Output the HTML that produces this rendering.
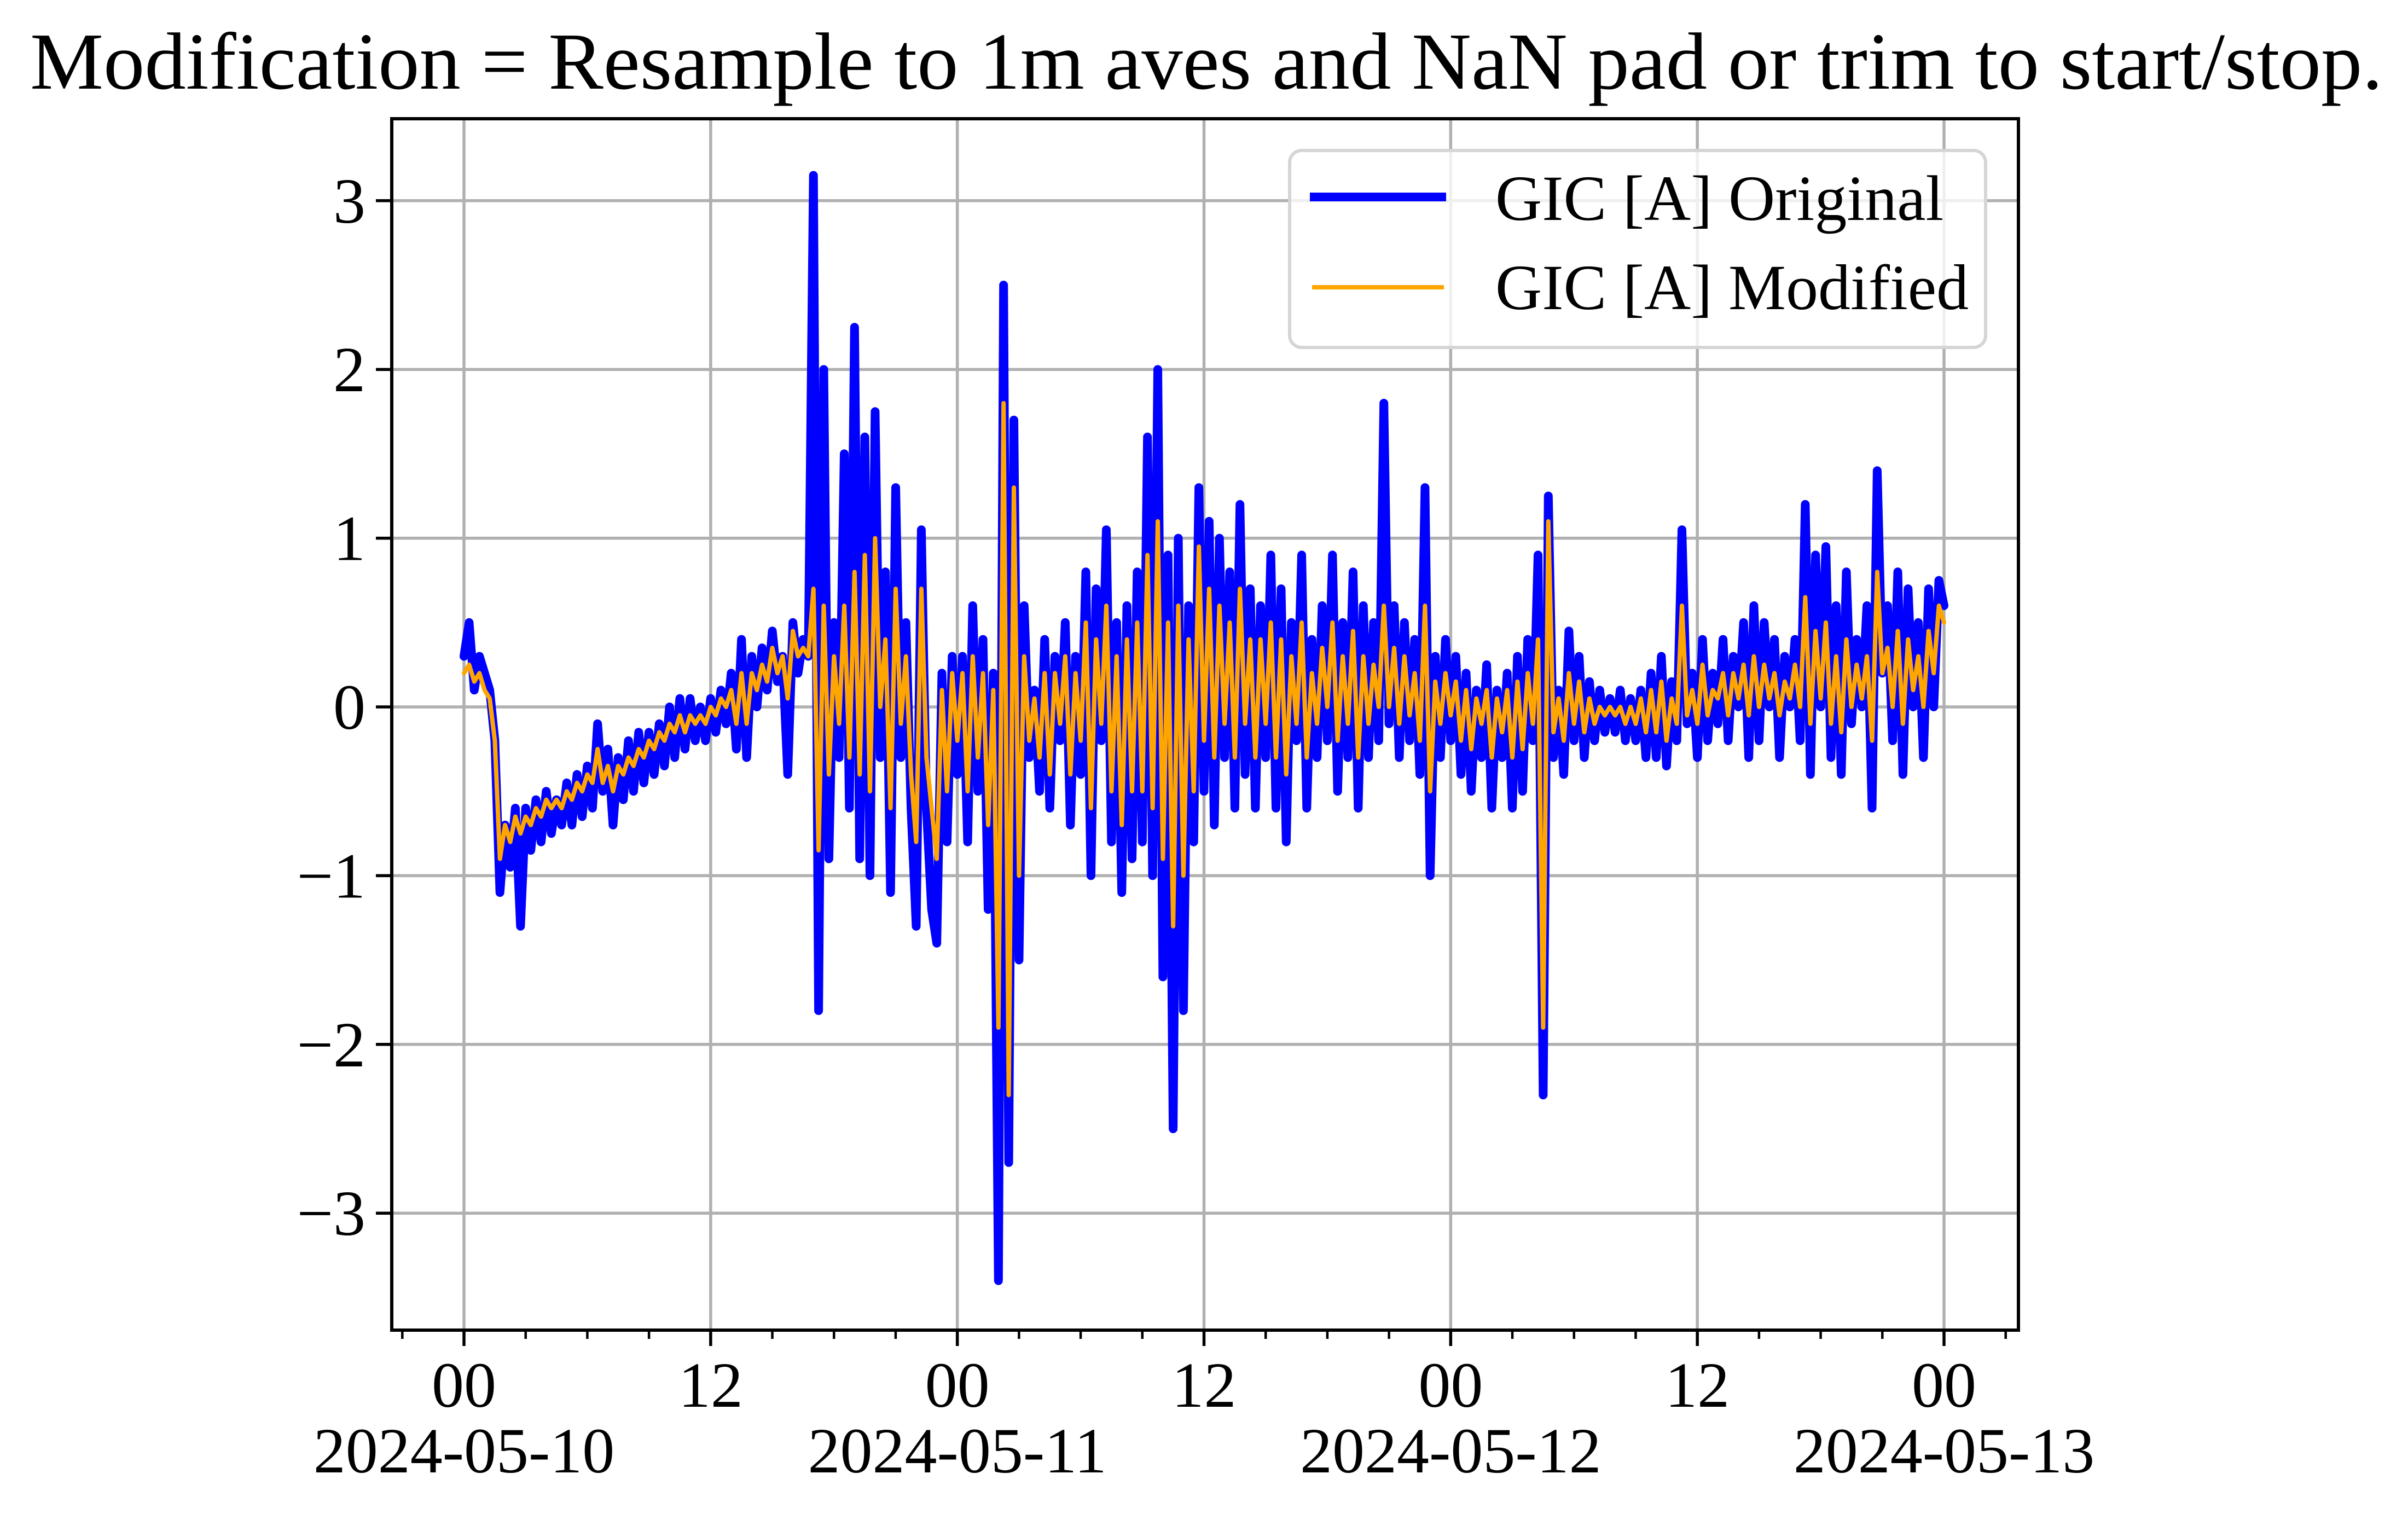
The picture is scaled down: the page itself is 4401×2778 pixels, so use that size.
<!DOCTYPE html>
<html><head><meta charset="utf-8">
<style>
html,body{margin:0;padding:0;background:#fff;}
svg{display:block;font-family:"Liberation Serif","Times New Roman",serif;}
</style></head>
<body>
<svg id="chart" width="4401" height="2778" viewBox="0 0 4401 2778" xmlns="http://www.w3.org/2000/svg">
<rect width="4401" height="2778" fill="#fff"/>
<text x="2205" y="162" font-size="148" text-anchor="middle" textLength="4300" lengthAdjust="spacingAndGlyphs">Modification = Resample to 1m aves and NaN pad or trim to start/stop.</text>
<g id="grid"></g>
<g id="series"></g>
<rect x="716" y="217" width="2973" height="2214" fill="none" stroke="#000" stroke-width="6"/>
<g id="ticks"></g>
<g>
<rect x="2357" y="275" width="1272" height="360" rx="22" fill="#fff" fill-opacity="0.8" stroke="#d5d5d5" stroke-width="6"/>
<line x1="2394" y1="360" x2="2643" y2="360" stroke="#0000ff" stroke-width="16"/>
<text x="2733" y="402" font-size="118">GIC [A] Original</text>
<line x1="2398" y1="525" x2="2639" y2="525" stroke="#ffa500" stroke-width="8"/>
<text x="2733" y="565" font-size="118">GIC [A] Modified</text>
</g>
</svg>
<script>
const startHour = 0;
const stepHours = 0.25;
const yTicks = [-3,-2,-1,0,1,2,3];
const yTickLabels = ["\u22123","\u22122","\u22121","0","1","2","3"];
const xMajorHours = [0,12,24,36,48,60,72];
const xMajorLabels = ["00","12","00","12","00","12","00"];
const xDateHours = [0,24,48,72];
const xDateLabels = ["2024-05-10","2024-05-11","2024-05-12","2024-05-13"];
const xMinorHours = [-3,3,6,9,15,18,21,27,30,33,39,42,45,51,54,57,63,66,69,75];
const originalValues = [
0.3,0.5,0.1,0.3,0.2,0.1,-0.2,-1.1,-0.7,-0.95,-0.6,-1.3,
-0.6,-0.85,-0.55,-0.8,-0.5,-0.75,-0.55,-0.7,-0.45,-0.7,-0.4,-0.65,
-0.35,-0.6,-0.1,-0.5,-0.25,-0.7,-0.3,-0.55,-0.2,-0.5,-0.15,-0.45,
-0.15,-0.4,-0.1,-0.35,0.0,-0.3,0.05,-0.25,0.05,-0.2,0.0,-0.2,
0.05,-0.15,0.1,-0.1,0.2,-0.25,0.4,-0.3,0.3,0.0,0.35,0.1,
0.45,0.15,0.3,-0.4,0.5,0.2,0.4,0.3,3.15,-1.8,2.0,-0.9,
0.5,-0.3,1.5,-0.6,2.25,-0.9,1.6,-1.0,1.75,-0.3,0.8,-1.1,
1.3,-0.3,0.5,-0.6,-1.3,1.05,-0.6,-1.2,-1.4,0.2,-0.8,0.3,
-0.4,0.3,-0.8,0.6,-0.5,0.4,-1.2,0.2,-3.4,2.5,-2.7,1.7,
-1.5,0.6,-0.3,0.1,-0.5,0.4,-0.6,0.3,-0.2,0.5,-0.7,0.3,
-0.4,0.8,-1.0,0.7,-0.2,1.05,-0.8,0.5,-1.1,0.6,-0.9,0.8,
-0.8,1.6,-1.0,2.0,-1.6,0.9,-2.5,1.0,-1.8,0.6,-0.8,1.3,
-0.5,1.1,-0.7,1.0,-0.3,0.8,-0.6,1.2,-0.4,0.7,-0.6,0.6,
-0.3,0.9,-0.6,0.7,-0.8,0.5,-0.2,0.9,-0.6,0.4,-0.3,0.6,
-0.2,0.9,-0.5,0.5,-0.3,0.8,-0.6,0.6,-0.3,0.5,-0.2,1.8,
-0.1,0.6,-0.3,0.5,-0.2,0.4,-0.4,1.3,-1.0,0.3,-0.3,0.4,
-0.2,0.3,-0.4,0.2,-0.5,0.1,-0.3,0.25,-0.6,0.1,-0.3,0.2,
-0.6,0.3,-0.5,0.4,-0.2,0.9,-2.3,1.25,-0.3,0.1,-0.4,0.45,
-0.2,0.3,-0.3,0.15,-0.2,0.1,-0.15,0.05,-0.15,0.1,-0.2,0.05,
-0.2,0.1,-0.3,0.2,-0.3,0.3,-0.35,0.15,-0.2,1.05,-0.1,0.2,
-0.3,0.4,-0.2,0.2,-0.1,0.4,-0.2,0.3,0.0,0.5,-0.3,0.6,
-0.2,0.5,0.0,0.4,-0.3,0.3,0.0,0.4,-0.2,1.2,-0.4,0.9,
0.0,0.95,-0.3,0.6,-0.4,0.8,-0.1,0.4,0.0,0.6,-0.6,1.4,
0.2,0.6,-0.2,0.8,-0.4,0.7,0.0,0.5,-0.3,0.7,0.0,0.75,
0.6];
const modifiedValues = [
0.2,0.25,0.15,0.2,0.1,0.05,-0.2,-0.9,-0.7,-0.8,-0.65,-0.75,
-0.65,-0.7,-0.6,-0.65,-0.55,-0.6,-0.55,-0.6,-0.5,-0.55,-0.45,-0.5,
-0.4,-0.45,-0.25,-0.45,-0.35,-0.5,-0.35,-0.4,-0.3,-0.35,-0.25,-0.3,
-0.2,-0.25,-0.15,-0.2,-0.1,-0.15,-0.05,-0.15,-0.05,-0.1,-0.05,-0.1,
0.0,-0.05,0.05,0.0,0.1,-0.1,0.2,-0.1,0.2,0.1,0.25,0.15,
0.35,0.2,0.3,0.05,0.45,0.3,0.35,0.3,0.7,-0.85,0.6,-0.4,
0.3,-0.1,0.6,-0.3,0.8,-0.4,0.9,-0.5,1.0,0.0,0.4,-0.6,
0.7,-0.1,0.3,-0.4,-0.8,0.7,-0.3,-0.6,-0.9,0.1,-0.5,0.2,
-0.2,0.2,-0.5,0.3,-0.3,0.2,-0.7,0.1,-1.9,1.8,-2.3,1.3,
-1.0,0.3,-0.2,0.05,-0.3,0.2,-0.4,0.2,-0.1,0.3,-0.4,0.2,
-0.2,0.5,-0.6,0.4,-0.1,0.6,-0.5,0.3,-0.7,0.4,-0.5,0.5,
-0.5,0.9,-0.6,1.1,-0.9,0.5,-1.3,0.6,-1.0,0.4,-0.5,0.95,
-0.2,0.7,-0.3,0.6,-0.1,0.5,-0.3,0.7,-0.1,0.4,-0.3,0.4,
-0.1,0.5,-0.3,0.4,-0.4,0.3,-0.1,0.5,-0.3,0.2,-0.1,0.35,
0.0,0.5,-0.2,0.3,-0.1,0.45,-0.3,0.3,-0.1,0.25,0.0,0.6,
0.0,0.35,-0.1,0.3,-0.05,0.2,-0.2,0.6,-0.5,0.15,-0.1,0.2,
-0.05,0.15,-0.2,0.1,-0.25,0.05,-0.1,0.1,-0.3,0.05,-0.15,0.1,
-0.3,0.15,-0.25,0.2,-0.1,0.4,-1.9,1.1,-0.15,0.05,-0.2,0.2,
-0.1,0.15,-0.15,0.05,-0.1,0.0,-0.05,0.0,-0.05,0.0,-0.1,0.0,
-0.1,0.05,-0.15,0.1,-0.15,0.15,-0.2,0.05,-0.1,0.6,-0.05,0.1,
-0.1,0.25,-0.05,0.1,0.05,0.2,-0.05,0.2,0.05,0.25,-0.05,0.3,
0.0,0.25,0.05,0.2,-0.05,0.15,0.05,0.25,0.0,0.65,-0.1,0.45,
0.05,0.5,-0.1,0.3,-0.15,0.4,0.0,0.25,0.05,0.3,-0.2,0.8,
0.2,0.35,0.0,0.45,-0.1,0.4,0.1,0.3,0.0,0.45,0.2,0.6,
0.5];

const NS = "http://www.w3.org/2000/svg";
function xScale(h){ return 848 + h * (3553 - 848) / 72; }
function yScale(v){ return 1292 - v * 308.4; }
function mk(tag, attrs, parent){
  const e = document.createElementNS(NS, tag);
  for (const k in attrs) e.setAttribute(k, attrs[k]);
  parent.appendChild(e);
  return e;
}
const grid = document.getElementById('grid');
const ticks = document.getElementById('ticks');
const series = document.getElementById('series');

yTicks.forEach((v, i) => {
  const y = yScale(v);
  const g = mk('line', {x1:716, x2:3689, y1:y, y2:y, stroke:'#b0b0b0', 'stroke-width':5.5}, grid);
  
  
  const t = mk('line', {x1:687, x2:716, y1:y, y2:y, stroke:'#000', 'stroke-width':5.5}, ticks);
  
  
  const l = mk('text', {x:668, y:y + 40, 'font-size':118, 'text-anchor':'end'}, ticks);
  l.textContent = yTickLabels[i];
  
  
});
xMajorHours.forEach((h, i) => {
  const x = xScale(h);
  const g = mk('line', {x1:x, x2:x, y1:217, y2:2431, stroke:'#b0b0b0', 'stroke-width':5.5}, grid);
  
  
  const t = mk('line', {x1:x, x2:x, y1:2431, y2:2460, stroke:'#000', 'stroke-width':5.5}, ticks);
  
  
  const l = mk('text', {x:x, y:2571, 'font-size':118, 'text-anchor':'middle'}, ticks);
  l.textContent = xMajorLabels[i];
  
  
});
xDateHours.forEach((h, i) => {
  const l = mk('text', {x:xScale(h), y:2691, 'font-size':118, 'text-anchor':'middle'}, ticks);
  l.textContent = xDateLabels[i];
  
  
});
xMinorHours.forEach(h => {
  const x = xScale(h);
  const t = mk('line', {x1:x, x2:x, y1:2431, y2:2447, stroke:'#000', 'stroke-width':4.5}, ticks);
  
  
});
function pathFor(vals){
  return vals.map((v, i) => (i ? 'L' : 'M') + xScale(startHour + i * stepHours).toFixed(1) + ' ' + yScale(v).toFixed(1)).join(' ');
}
const p1 = mk('path', {d:pathFor(originalValues), fill:'none', stroke:'#0000ff', 'stroke-width':16, 'stroke-linejoin':'round', 'stroke-linecap':'round'}, series);


const p2 = mk('path', {d:pathFor(modifiedValues), fill:'none', stroke:'#ffa500', 'stroke-width':8, 'stroke-linejoin':'round', 'stroke-linecap':'round'}, series);


</script>
</body></html>
